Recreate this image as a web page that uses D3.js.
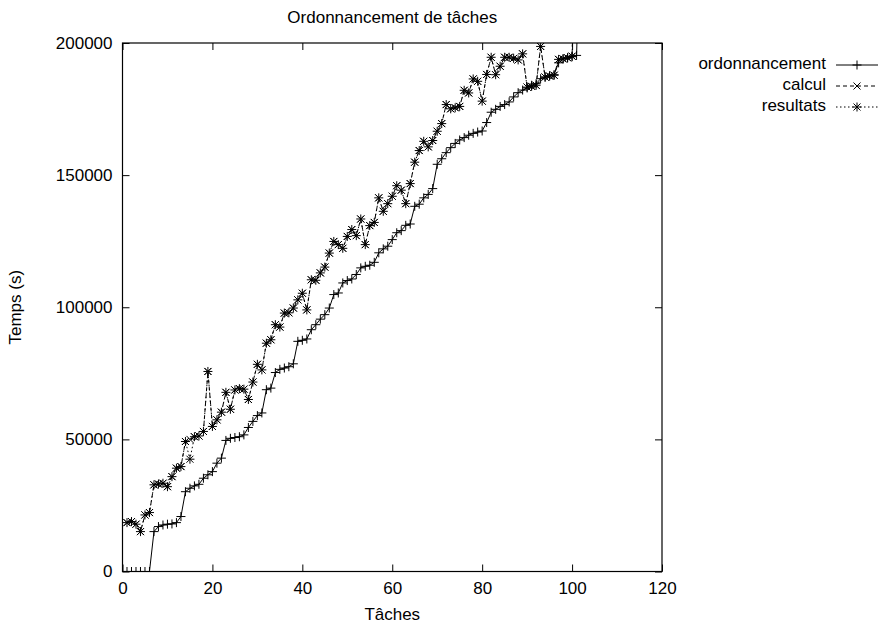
<!DOCTYPE html>
<html>
<head>
<meta charset="utf-8">
<script src="https://cdn.jsdelivr.net/npm/d3@7"></script>
<style>
body { margin: 0; background: #fff; }
text { font-family: "Liberation Sans", Arial, sans-serif; font-size: 17px; fill: #000; }
</style>
</head>
<body>
<div id="chart"></div>
<script>
var width = 882;
var height = 626;

// durees par tache (tache n = index + 1)
var ordonnancement = [0, 0, 0, 0, 0, 0, 15100, 17000, 17600, 17900,
    18000, 18500, 20800, 30200, 31500, 32400, 33000, 35300, 36600, 37800,
    41000, 42900, 49600, 50400, 50700, 51000, 51700, 54500, 56800, 59000,
    60000, 68800, 69400, 75300, 76500, 77000, 77500, 78600, 87100, 87500,
    88000, 91500, 93400, 95500, 97200, 99700, 104800, 105400, 109200, 110100,
    110700, 112400, 114900, 115500, 115900, 117000, 120600, 122100, 123100, 125600,
    128200, 129000, 131000, 131500, 138200, 139000, 141400, 142700, 144900, 154100,
    156200, 158500, 160400, 162000, 163300, 164200, 165100, 165800, 166300, 166700,
    169900, 173800, 174900, 176000, 176700, 177700, 179600, 181200, 182200, 183000,
    184000, 184600, 186500, 187100, 187600, 188000, 192500, 194000, 194400, 194800,
    195300, 260000];

var calcul = [18500, 18900, 17900, 15100, 21400, 22300, 32800, 33100, 33400, 32100,
    35900, 39100, 39700, 49200, 50000, 51000, 51300, 53000, 75700, 54900,
    57400, 60300, 67800, 61400, 68700, 69200, 69000, 65100, 71700, 78400,
    76300, 86400, 87700, 93400, 92500, 97800, 97900, 99700, 102800, 105300,
    99000, 110400, 110200, 113000, 115200, 120500, 124900, 123700, 122300, 126800,
    129400, 127100, 133400, 123700, 130900, 132100, 141400, 136300, 139200, 142000,
    146000, 144300, 139200, 146800, 154900, 159300, 162800, 160700, 163100, 166600,
    169500, 176700, 175100, 175500, 176000, 182100, 181100, 186400, 185500, 178000,
    188100, 194600, 188000, 191200, 194600, 194600, 194200, 193600, 195900, 183300,
    183600, 184000, 198700, 187100, 187500, 187800, 193800, 194000, 194400, 195000,
    260000];

var resultats = [18500, 18900, 17900, 15100, 21400, 22300, 32800, 33100, 33400, 32100,
    35900, 39100, 39700, 49200, 42500, 51000, 51300, 53000, 75700, 54900,
    57400, 60300, 67800, 61400, 68700, 69200, 69000, 65100, 71700, 78400,
    76300, 86400, 87700, 93400, 92500, 97800, 97900, 99700, 102800, 105300,
    99000, 110400, 110200, 113000, 115200, 120500, 124900, 123700, 122300, 126800,
    129400, 127100, 133400, 123700, 130900, 132100, 141400, 136300, 139200, 142000,
    146000, 144300, 139200, 146800, 154900, 159300, 162800, 160700, 163100, 166600,
    169500, 176700, 175100, 175500, 176000, 182100, 181100, 186400, 185500, 178000,
    188100, 194600, 188000, 191200, 194600, 194600, 194200, 193600, 195900, 183300,
    183600, 184000, 198700, 187100, 187500, 187800, 193800, 194000, 194400, 195000,
    260000];

var xTicks = [0, 20, 40, 60, 80, 100, 120];
var yTicks = [0, 50000, 100000, 150000, 200000];

var pLeft = 122.5, pRight = 662, pTop = 43, pBottom = 571.5;

var svg = d3.select("#chart")
    .append("svg")
    .attr("width", width)
    .attr("height", height);

svg.append("rect").attr("width", width).attr("height", height).style("fill", "#fff");

var xScale = d3.scaleLinear().domain([0, 120]).range([pLeft, pRight]);
var yScale = d3.scaleLinear().domain([0, 200000]).range([pBottom, pTop]);

// axes with inward ticks, mirrored on top / right
svg.append("g")
    .attr("transform", "translate(0," + pBottom + ")")
    .call(d3.axisBottom(xScale).tickValues(xTicks).tickSizeInner(-7).tickSizeOuter(0).tickPadding(10))
    .call(function(g) { g.select(".domain").remove(); });
svg.append("g")
    .attr("transform", "translate(0," + pTop + ")")
    .call(d3.axisTop(xScale).tickValues(xTicks).tickSizeInner(-7).tickSizeOuter(0).tickFormat(""))
    .call(function(g) { g.select(".domain").remove(); });
svg.append("g")
    .attr("transform", "translate(" + pLeft + ",0)")
    .call(d3.axisLeft(yScale).tickValues(yTicks).tickSizeInner(-7).tickSizeOuter(0).tickPadding(10).tickFormat(d3.format("d")))
    .call(function(g) { g.select(".domain").remove(); });
svg.append("g")
    .attr("transform", "translate(" + pRight + ",0)")
    .call(d3.axisRight(yScale).tickValues(yTicks).tickSizeInner(-7).tickSizeOuter(0).tickFormat(""))
    .call(function(g) { g.select(".domain").remove(); });

svg.selectAll(".tick text").style("font-size", "17px").style("font-family", "'Liberation Sans', Arial, sans-serif").attr("fill", "#000");
svg.selectAll(".tick line").attr("stroke", "#000");

svg.append("rect")
    .attr("x", pLeft).attr("y", pTop)
    .attr("width", pRight - pLeft).attr("height", pBottom - pTop)
    .style("fill", "none").style("stroke", "#000").style("stroke-width", 1.2);

svg.append("clipPath").attr("id", "clip")
    .append("rect").attr("x", pLeft).attr("y", pTop).attr("width", pRight - pLeft).attr("height", pBottom - pTop);

var plusPath = "M-4.5,0H4.5M0,-4.5V4.5";
var crossPath = "M-3.5,-3.5L3.5,3.5M-3.5,3.5L3.5,-3.5";
var starPath = plusPath + crossPath;

var series = [
    { name: "ordonnancement", values: ordonnancement, dash: null, marker: plusPath },
    { name: "calcul", values: calcul, dash: "4,3", marker: crossPath },
    { name: "resultats", values: resultats, dash: "1.5,2.5", marker: starPath }
];

var line = d3.line()
    .x(function(d, i) { return xScale(i + 1); })
    .y(function(d) { return yScale(d); });

var plot = svg.append("g").attr("clip-path", "url(#clip)");

series.forEach(function(s) {
    plot.append("path")
        .datum(s.values)
        .attr("d", line)
        .style("fill", "none")
        .style("stroke", "#000")
        .style("stroke-width", 1)
        .style("stroke-dasharray", s.dash);
    plot.selectAll(null)
        .data(s.values)
        .enter()
        .filter(function(d) { return d <= 200000; })
        .append("path")
        .attr("d", s.marker)
        .attr("transform", function(d, i) { return "translate(" + xScale(i + 1) + "," + yScale(d) + ")"; })
        .style("fill", "none")
        .style("stroke", "#000")
        .style("stroke-width", 1);
});

// legende
series.forEach(function(s, i) {
    var ly = 65 + i * 21;
    svg.append("text").attr("x", 826).attr("y", ly).text(s.name)
        .style("text-anchor", "end").attr("dominant-baseline", "middle");
    svg.append("line").attr("x1", 836).attr("x2", 878).attr("y1", ly).attr("y2", ly)
        .style("stroke", "#000").style("stroke-width", 1).style("stroke-dasharray", s.dash);
    svg.append("path").attr("d", s.marker).attr("transform", "translate(857," + ly + ")")
        .style("fill", "none").style("stroke", "#000");
});

svg.append("text").attr("x", (pLeft + pRight) / 2).attr("y", 23)
    .style("text-anchor", "middle").text("Ordonnancement de tâches");
svg.append("text").attr("x", (pLeft + pRight) / 2).attr("y", 620)
    .style("text-anchor", "middle").text("Tâches");
svg.append("text")
    .attr("transform", "translate(21," + (pTop + pBottom) / 2 + ") rotate(-90)")
    .style("text-anchor", "middle").text("Temps (s)");
</script>
</body>
</html>
